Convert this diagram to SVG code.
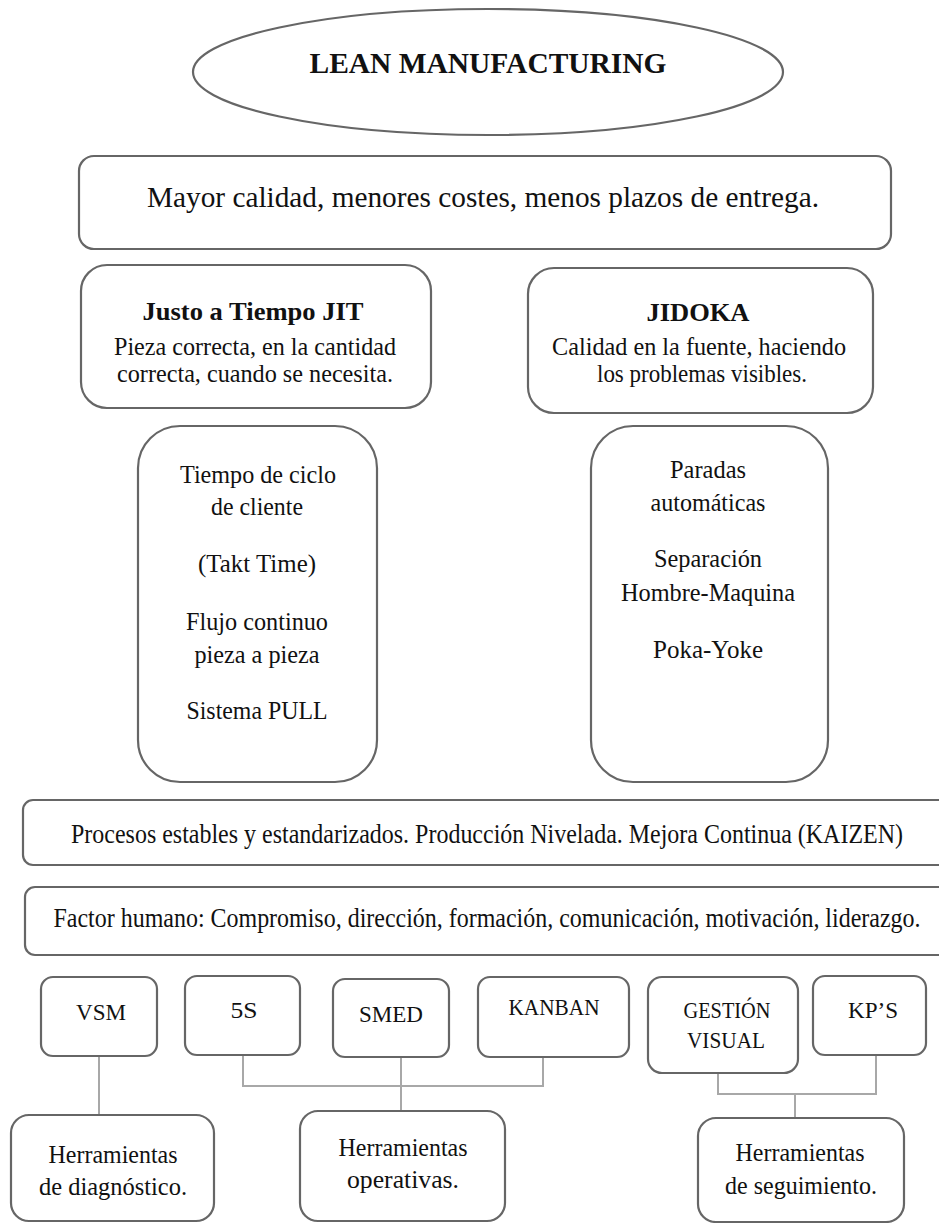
<svg xmlns="http://www.w3.org/2000/svg" width="939" height="1223" viewBox="0 0 939 1223">
  <style>
    .box { fill: #ffffff; stroke: #666666; stroke-width: 2.2; }
    .t { font-family: "Liberation Serif", "Times New Roman", serif; fill: #111111; text-anchor: middle; }
    .b { font-weight: bold; }
    .link { fill: none; stroke: #a8a8a8; stroke-width: 2; }
  </style>
  <rect width="939" height="1223" fill="#ffffff"/>

  <g id="title">
    <ellipse class="box" cx="488" cy="72" rx="295" ry="63"/>
    <text class="t b" x="488" y="73" font-size="29" textLength="357" lengthAdjust="spacingAndGlyphs">LEAN MANUFACTURING</text>
  </g>

  <g id="goals">
    <rect class="box" x="79" y="156" width="812" height="93" rx="15"/>
    <text class="t" x="483" y="207" font-size="29" textLength="672" lengthAdjust="spacingAndGlyphs">Mayor calidad, menores costes, menos plazos de entrega.</text>
  </g>

  <g id="jit">
    <rect class="box" x="81" y="265" width="350" height="143" rx="26"/>
    <text class="t b" x="253" y="320" font-size="25" textLength="221" lengthAdjust="spacingAndGlyphs">Justo a Tiempo JIT</text>
    <text class="t" x="255" y="355" font-size="26" textLength="282" lengthAdjust="spacingAndGlyphs">Pieza correcta, en la cantidad</text>
    <text class="t" x="255" y="382" font-size="26" textLength="276" lengthAdjust="spacingAndGlyphs">correcta, cuando se necesita.</text>
  </g>

  <g id="jidoka">
    <rect class="box" x="528" y="268" width="345" height="145" rx="26"/>
    <text class="t b" x="698" y="321" font-size="25" textLength="103" lengthAdjust="spacingAndGlyphs">JIDOKA</text>
    <text class="t" x="699" y="355" font-size="26" textLength="294" lengthAdjust="spacingAndGlyphs">Calidad en la fuente, haciendo</text>
    <text class="t" x="702" y="382" font-size="26" textLength="210" lengthAdjust="spacingAndGlyphs">los problemas visibles.</text>
  </g>

  <g id="jit-elements">
    <rect class="box" x="138" y="426" width="239" height="356" rx="42"/>
    <text class="t" x="258" y="483" font-size="25" textLength="156" lengthAdjust="spacingAndGlyphs">Tiempo de ciclo</text>
    <text class="t" x="257" y="515" font-size="25" textLength="92" lengthAdjust="spacingAndGlyphs">de cliente</text>
    <text class="t" x="257" y="572" font-size="25" textLength="118" lengthAdjust="spacingAndGlyphs">(Takt Time)</text>
    <text class="t" x="257" y="630" font-size="25" textLength="142" lengthAdjust="spacingAndGlyphs">Flujo continuo</text>
    <text class="t" x="257" y="663" font-size="25" textLength="125" lengthAdjust="spacingAndGlyphs">pieza a pieza</text>
    <text class="t" x="257" y="719" font-size="25" textLength="141" lengthAdjust="spacingAndGlyphs">Sistema PULL</text>
  </g>

  <g id="jidoka-elements">
    <rect class="box" x="591" y="426" width="237" height="356" rx="42"/>
    <text class="t" x="708" y="478" font-size="25" textLength="76" lengthAdjust="spacingAndGlyphs">Paradas</text>
    <text class="t" x="708" y="511" font-size="25" textLength="115" lengthAdjust="spacingAndGlyphs">automáticas</text>
    <text class="t" x="708" y="567" font-size="25" textLength="108" lengthAdjust="spacingAndGlyphs">Separación</text>
    <text class="t" x="708" y="601" font-size="25" textLength="174" lengthAdjust="spacingAndGlyphs">Hombre-Maquina</text>
    <text class="t" x="708" y="658" font-size="25" textLength="110" lengthAdjust="spacingAndGlyphs">Poka-Yoke</text>
  </g>

  <g id="stability">
    <rect class="box" x="23" y="800" width="940" height="65" rx="10"/>
    <text class="t" x="487" y="843" font-size="27" textLength="832" lengthAdjust="spacingAndGlyphs">Procesos estables y estandarizados. Producción Nivelada. Mejora Continua (KAIZEN)</text>
  </g>

  <g id="human-factor">
    <rect class="box" x="25" y="887" width="940" height="68" rx="10"/>
    <text class="t" x="487" y="927" font-size="27" textLength="867" lengthAdjust="spacingAndGlyphs">Factor humano: Compromiso, dirección, formación, comunicación, motivación, liderazgo.</text>
  </g>

  <g id="connectors">
    <path class="link" d="M99 1056 V1115"/>
    <path class="link" d="M243 1055 V1086 H543 V1057"/>
    <path class="link" d="M401 1057 V1111"/>
    <path class="link" d="M718 1073 V1094 H876 V1055"/>
    <path class="link" d="M795 1094 V1118"/>
  </g>

  <g id="vsm">
    <rect class="box" x="41" y="977" width="116" height="79" rx="12"/>
    <text class="t" x="101" y="1020" font-size="24" textLength="50" lengthAdjust="spacingAndGlyphs">VSM</text>
  </g>
  <g id="s5">
    <rect class="box" x="185" y="976" width="115" height="79" rx="12"/>
    <text class="t" x="244" y="1018" font-size="24" textLength="27" lengthAdjust="spacingAndGlyphs">5S</text>
  </g>
  <g id="smed">
    <rect class="box" x="333" y="979" width="116" height="78" rx="12"/>
    <text class="t" x="391" y="1022" font-size="24" textLength="64" lengthAdjust="spacingAndGlyphs">SMED</text>
  </g>
  <g id="kanban">
    <rect class="box" x="478" y="977" width="151" height="80" rx="12"/>
    <text class="t" x="554" y="1015" font-size="23" textLength="91" lengthAdjust="spacingAndGlyphs">KANBAN</text>
  </g>
  <g id="gestion-visual">
    <rect class="box" x="648" y="977" width="150" height="96" rx="14"/>
    <text class="t" x="727" y="1018" font-size="23" textLength="87" lengthAdjust="spacingAndGlyphs">GESTIÓN</text>
    <text class="t" x="726" y="1048" font-size="23" textLength="78" lengthAdjust="spacingAndGlyphs">VISUAL</text>
  </g>
  <g id="kps">
    <rect class="box" x="813" y="976" width="113" height="79" rx="12"/>
    <text class="t" x="873" y="1018" font-size="24" textLength="50" lengthAdjust="spacingAndGlyphs">KP’S</text>
  </g>

  <g id="diagnostic-tools">
    <rect class="box" x="11" y="1115" width="203" height="106" rx="18"/>
    <text class="t" x="113" y="1163" font-size="26" textLength="129" lengthAdjust="spacingAndGlyphs">Herramientas</text>
    <text class="t" x="113" y="1195" font-size="26" textLength="148" lengthAdjust="spacingAndGlyphs">de diagnóstico.</text>
  </g>
  <g id="operative-tools">
    <rect class="box" x="300" y="1111" width="205" height="110" rx="18"/>
    <text class="t" x="403" y="1156" font-size="26" textLength="129" lengthAdjust="spacingAndGlyphs">Herramientas</text>
    <text class="t" x="403" y="1188" font-size="26" textLength="112" lengthAdjust="spacingAndGlyphs">operativas.</text>
  </g>
  <g id="tracking-tools">
    <rect class="box" x="698" y="1118" width="206" height="104" rx="18"/>
    <text class="t" x="800" y="1161" font-size="26" textLength="129" lengthAdjust="spacingAndGlyphs">Herramientas</text>
    <text class="t" x="801" y="1194" font-size="26" textLength="152" lengthAdjust="spacingAndGlyphs">de seguimiento.</text>
  </g>
</svg>
